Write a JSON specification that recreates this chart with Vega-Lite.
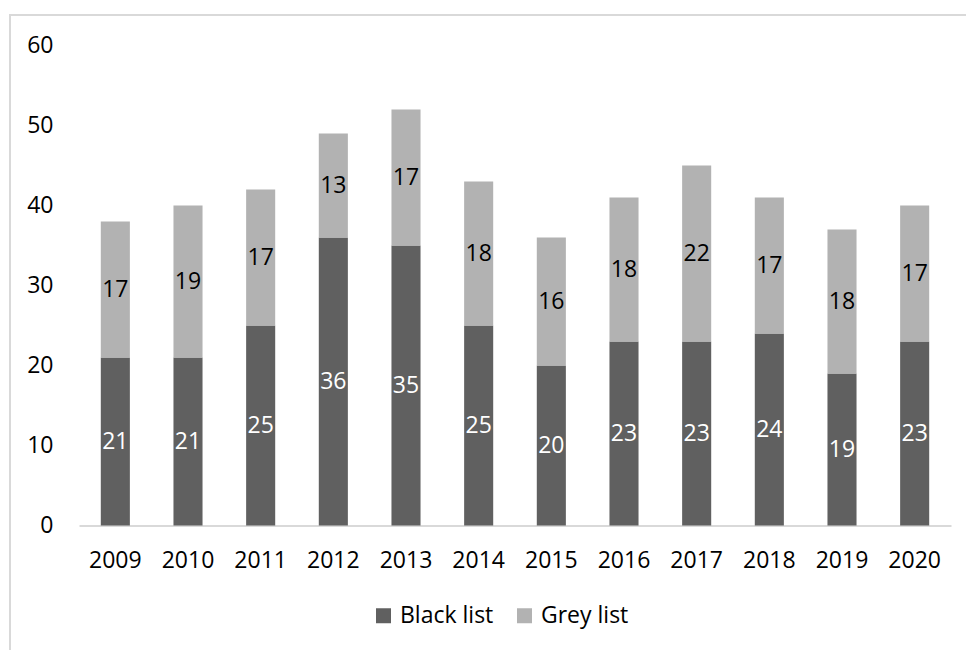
{
  "$schema": "https://vega.github.io/schema/vega-lite/v6.json",
  "autosize": {"type": "none"},
  "padding": {"left": 10, "top": 15, "right": 0, "bottom": 0},
  "width": 966,
  "height": 650,
  "background": "white",
  "config": {
    "font": "Open Sans",
    "view": {"stroke": "#d9d9d9", "strokeWidth": 2}
  },
  "data": {
    "values": [
      {"year": "2009", "list": "Black list", "count": 21},
      {"year": "2009", "list": "Grey list", "count": 17},
      {"year": "2010", "list": "Black list", "count": 21},
      {"year": "2010", "list": "Grey list", "count": 19},
      {"year": "2011", "list": "Black list", "count": 25},
      {"year": "2011", "list": "Grey list", "count": 17},
      {"year": "2012", "list": "Black list", "count": 36},
      {"year": "2012", "list": "Grey list", "count": 13},
      {"year": "2013", "list": "Black list", "count": 35},
      {"year": "2013", "list": "Grey list", "count": 17},
      {"year": "2014", "list": "Black list", "count": 25},
      {"year": "2014", "list": "Grey list", "count": 18},
      {"year": "2015", "list": "Black list", "count": 20},
      {"year": "2015", "list": "Grey list", "count": 16},
      {"year": "2016", "list": "Black list", "count": 23},
      {"year": "2016", "list": "Grey list", "count": 18},
      {"year": "2017", "list": "Black list", "count": 23},
      {"year": "2017", "list": "Grey list", "count": 22},
      {"year": "2018", "list": "Black list", "count": 24},
      {"year": "2018", "list": "Grey list", "count": 17},
      {"year": "2019", "list": "Black list", "count": 19},
      {"year": "2019", "list": "Grey list", "count": 18},
      {"year": "2020", "list": "Black list", "count": 23},
      {"year": "2020", "list": "Grey list", "count": 17}
    ]
  },
  "transform": [
    {"stack": "count", "groupby": ["year"], "sort": [{"field": "list", "order": "ascending"}], "as": ["lo", "hi"]},
    {"calculate": "(datum.lo + datum.hi) / 2", "as": "mid"}
  ],
  "encoding": {
    "x": {
      "field": "year",
      "type": "ordinal",
      "scale": {"range": [69, 941], "paddingInner": 0.6, "paddingOuter": 0.3},
      "axis": {
        "title": null,
        "offset": -139.5,
        "domainColor": "#d9d9d9",
        "domainWidth": 2,
        "ticks": false,
        "labelAngle": 0,
        "labelPadding": 24,
        "labelFontSize": 23,
        "labelColor": "#000000"
      }
    }
  },
  "layer": [
    {
      "mark": {"type": "bar"},
      "encoding": {
        "y": {
          "field": "lo",
          "type": "quantitative",
          "scale": {"domain": [0, 60], "range": [510.5, 30.5], "nice": false, "zero": true},
          "axis": {
            "title": null,
            "values": [0, 10, 20, 30, 40, 50, 60],
            "offset": -69,
            "domain": false,
            "ticks": false,
            "grid": false,
            "labelPadding": 26,
            "labelFontSize": 23,
            "labelColor": "#000000"
          }
        },
        "y2": {"field": "hi"},
        "color": {
          "field": "list",
          "type": "nominal",
          "scale": {"domain": ["Black list", "Grey list"], "range": ["#606060", "#b2b2b2"]},
          "legend": {
            "title": null,
            "orient": "none",
            "direction": "horizontal",
            "legendX": 362,
            "legendY": 589,
            "symbolType": "square",
            "symbolSize": 225,
            "symbolStrokeWidth": 0,
            "symbolOpacity": 1,
            "labelFontSize": 23,
            "labelColor": "#000000",
            "labelOffset": 5,
            "columnPadding": 19
          }
        }
      }
    },
    {
      "mark": {"type": "text", "fontSize": 23, "baseline": "middle", "align": "center"},
      "encoding": {
        "y": {"field": "mid", "type": "quantitative"},
        "text": {"field": "count", "type": "quantitative"},
        "color": {
          "condition": {"test": "datum.list === 'Black list'", "value": "#ffffff"},
          "value": "#000000"
        }
      }
    }
  ]
}
